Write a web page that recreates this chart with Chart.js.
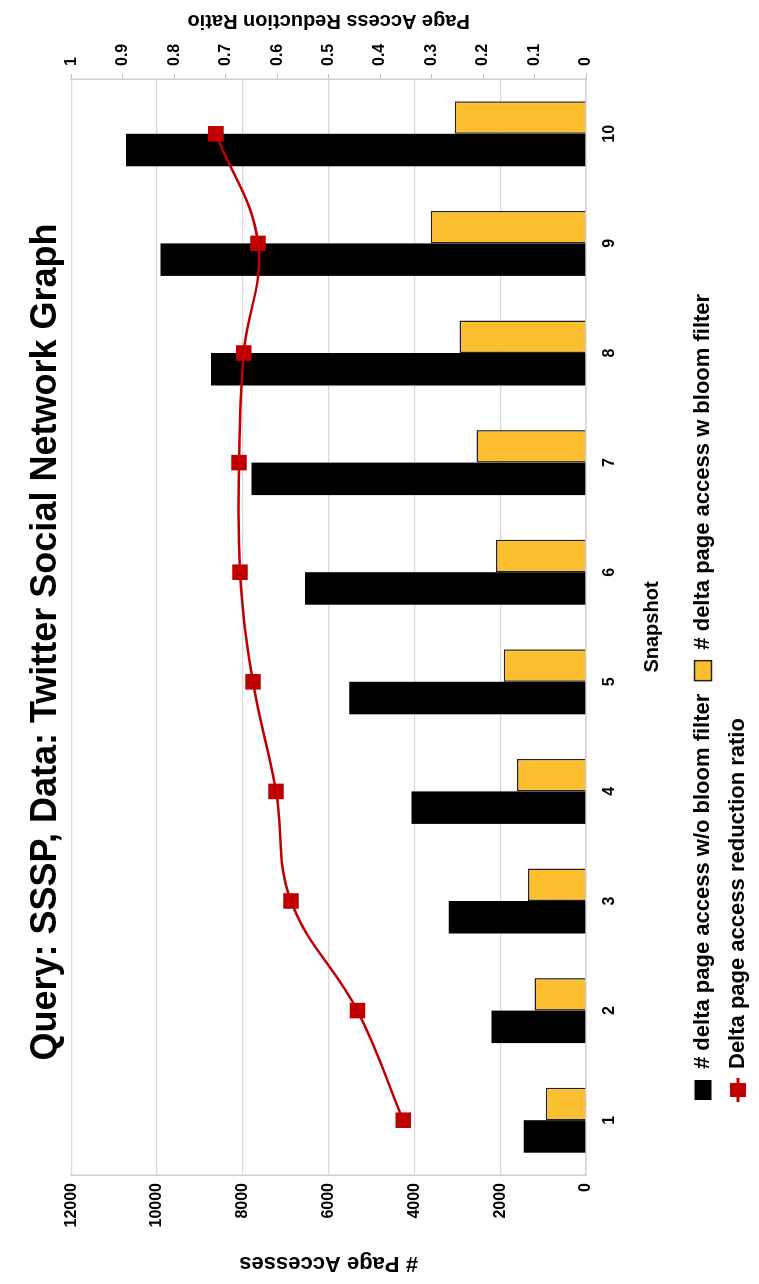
<!DOCTYPE html>
<html lang="en">
<head>
    <meta charset="UTF-8">
    <title>Query: SSSP, Data: Twitter Social Network Graph</title>
    <script src="https://cdn.jsdelivr.net/npm/chart.js@4"></script>
    <style>
        body {
            margin: 0;
            width: 759px;
            height: 1284px;
            overflow: hidden;
            background: #fff;
        }
        /* the chart is laid out landscape and turned a quarter left */
        #wrap {
            position: absolute;
            left: 0;
            top: 0;
            width: 1284px;
            height: 759px;
            transform-origin: 0 0;
            transform: translateY(1284px) rotate(-90deg);
        }
    </style>
</head>
<body>
    <div id="wrap">
        <canvas id="chart" width="1284" height="759"></canvas>
    </div>

    <script>
        // Data
        const snapshots = ['1', '2', '3', '4', '5', '6', '7', '8', '9', '10'];
        const withoutBloom = [1450, 2200, 3200, 4070, 5520, 6550, 7800, 8740, 9920, 10720];
        const withBloom = [940, 1200, 1350, 1610, 1920, 2100, 2550, 2950, 3620, 3060];
        const reductionRatio = [0.355, 0.444, 0.573, 0.602, 0.647, 0.672, 0.674, 0.665, 0.637, 0.719];

        const FONT = '"Liberation Sans", Arial, sans-serif';
        const RED = '#C00000';
        const y1Title = 'Page Access Reduction Ratio';

        // legend symbol for the line: short line with a square on it
        const lineSymbol = document.createElement('canvas');
        lineSymbol.width = 24;
        lineSymbol.height = 18;
        (function () {
            const c = lineSymbol.getContext('2d');
            c.strokeStyle = RED;
            c.lineWidth = 3;
            c.beginPath();
            c.moveTo(0, 9);
            c.lineTo(24, 9);
            c.stroke();
            c.fillStyle = RED;
            c.fillRect(5, 1, 14, 16);
        })();

        // right axis title reads the same way as the left one
        const rightTitle = {
            id: 'rightTitle',
            afterDraw(chart) {
                const { ctx, chartArea } = chart;
                const s = chart.scales.y1;
                ctx.save();
                ctx.translate(s.right - 21, (chartArea.top + chartArea.bottom) / 2);
                ctx.rotate(-Math.PI / 2);
                ctx.font = 'bold 20px ' + FONT;
                ctx.fillStyle = '#000';
                ctx.textAlign = 'center';
                ctx.textBaseline = 'middle';
                ctx.fillText(y1Title, 0, 0);
                ctx.restore();
            }
        };

        // legend starts a little in from the plot's left edge
        const legendShift = {
            id: 'legendShift',
            afterLayout(chart) {
                chart.legend.left = 171;
            }
        };

        const tickFont = { family: FONT, size: 16, weight: 'bold' };
        const plainNumber = v => String(v);

        const ctx = document.getElementById('chart').getContext('2d');

        new Chart(ctx, {
            type: 'bar',
            data: {
                labels: snapshots,
                datasets: [
                    {
                        label: '# delta page access w/o bloom filter',
                        data: withoutBloom,
                        backgroundColor: '#000000',
                        borderColor: '#000000',
                        borderWidth: 0,
                        order: 1,
                        yAxisID: 'y'
                    },
                    {
                        label: '# delta page access w bloom filter',
                        data: withBloom,
                        backgroundColor: '#FCBF2F',
                        borderColor: '#222222',
                        borderWidth: 1.5,
                        order: 1,
                        yAxisID: 'y'
                    },
                    {
                        type: 'line',
                        label: 'Delta page access reduction ratio',
                        data: reductionRatio,
                        borderColor: RED,
                        backgroundColor: RED,
                        borderWidth: 2.5,
                        pointStyle: 'rect',
                        pointRadius: 11,
                        pointBorderWidth: 0,
                        tension: 0.4,
                        order: 0,
                        yAxisID: 'y1'
                    }
                ]
            },
            options: {
                responsive: false,
                animation: false,
                layout: { padding: 0 },
                datasets: {
                    bar: { categoryPercentage: 0.593, barPercentage: 1.0 }
                },
                plugins: {
                    title: {
                        display: true,
                        text: 'Query: SSSP, Data: Twitter Social Network Graph',
                        color: '#000',
                        font: { family: FONT, size: 36, weight: 'bold', lineHeight: 1.2 },
                        padding: { top: 24, bottom: 4 }
                    },
                    legend: {
                        position: 'bottom',
                        align: 'start',
                        fullSize: false,
                        labels: {
                            color: '#000',
                            font: { family: FONT, size: 22, weight: 'bold' },
                            padding: 13,
                            usePointStyle: true,
                            pointStyleWidth: 20,
                            boxHeight: 17,
                            generateLabels(chart) {
                                const items = Chart.defaults.plugins.legend.labels.generateLabels(chart);
                                items.sort((a, b) => a.datasetIndex - b.datasetIndex);
                                items.forEach(it => {
                                    it.pointStyle = it.datasetIndex === 2 ? lineSymbol : 'rect';
                                });
                                return items;
                            }
                        }
                    },
                    tooltip: { enabled: false }
                },
                scales: {
                    x: {
                        grid: { display: false, drawTicks: false },
                        border: { display: true, color: '#d0d0d0', width: 1.5 },
                        ticks: { color: '#000', padding: 14, font: tickFont },
                        title: {
                            display: true,
                            text: 'Snapshot',
                            color: '#000',
                            font: { family: FONT, size: 20, weight: 'bold' },
                            padding: { top: 0, bottom: 15 }
                        },
                        afterFit(s) { s.height = 93; }
                    },
                    y: {
                        position: 'left',
                        min: 0,
                        max: 12000,
                        ticks: {
                            stepSize: 2000,
                            color: '#000',
                            padding: 8,
                            font: tickFont,
                            callback: plainNumber
                        },
                        grid: { color: '#d9d9d9', lineWidth: 1.3, drawTicks: false },
                        border: { display: true, color: '#d0d0d0', width: 1.5 },
                        title: {
                            display: true,
                            text: '# Page Accesses',
                            color: '#000',
                            font: { family: FONT, size: 22, weight: 'bold' },
                            padding: { top: 8, bottom: 0 }
                        },
                        afterFit(s) { s.width = 109; }
                    },
                    y1: {
                        position: 'right',
                        min: 0,
                        max: 1,
                        ticks: {
                            stepSize: 0.1,
                            color: '#000',
                            padding: 8,
                            font: tickFont,
                            callback: plainNumber
                        },
                        grid: { drawOnChartArea: false, color: '#bfbfbf', tickLength: 5 },
                        border: { display: true, color: '#d0d0d0', width: 1.5 },
                        afterFit(s) { s.width = 79; }
                    }
                }
            },
            plugins: [rightTitle, legendShift]
        });
    </script>
</body>
</html>
